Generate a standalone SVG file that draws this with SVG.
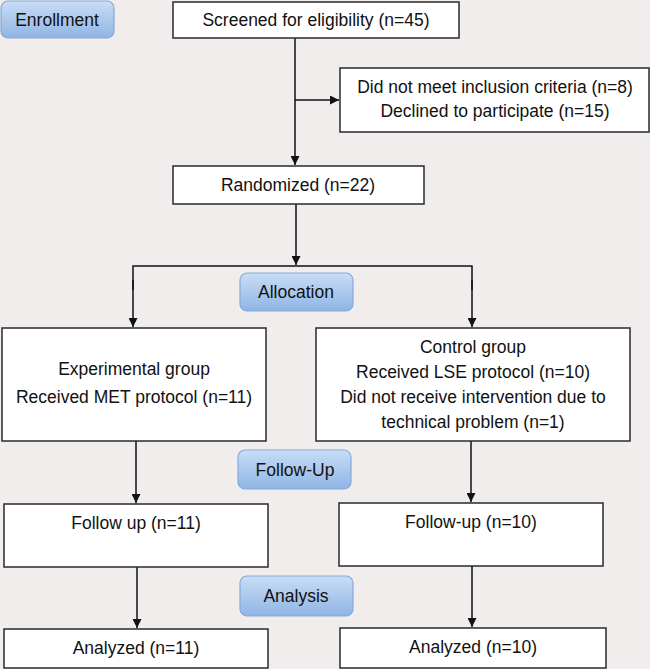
<svg xmlns="http://www.w3.org/2000/svg" width="650" height="669" viewBox="0 0 650 669">
<defs>
<linearGradient id="blue" x1="0" y1="0" x2="0" y2="1">
<stop offset="0" stop-color="#c9ddf6"/>
<stop offset="1" stop-color="#8fb5e4"/>
</linearGradient>
<marker id="arr" viewBox="0 0 10 10" refX="10" refY="5" markerWidth="9" markerHeight="9" markerUnits="userSpaceOnUse" orient="auto">
<path d="M0,0 L10,5 L0,10 z" fill="#111"/>
</marker>
</defs>
<style>
.box{fill:#fff;stroke:#2a2a2a;stroke-width:1.5}
.stage{fill:url(#blue);stroke:#86a9d8;stroke-width:1.2}
.t{font-family:"Liberation Sans",Arial,sans-serif;font-size:17.5px;fill:#111;text-anchor:middle}
.ln{fill:none;stroke:#111;stroke-width:1.5}
</style>
<rect width="650" height="669" fill="#f1eded"/>

<g id="connectors">
<path class="ln" d="M295,38 V165" marker-end="url(#arr)"/>
<path class="ln" d="M295,100 H339" marker-end="url(#arr)"/>
<path class="ln" d="M296,204 V265" marker-end="url(#arr)"/>
<path class="ln" d="M133,290 V266 H472 V290"/>
<path class="ln" d="M133,280 V327" marker-end="url(#arr)"/>
<path class="ln" d="M472,280 V327" marker-end="url(#arr)"/>
<path class="ln" d="M136,441 V503" marker-end="url(#arr)"/>
<path class="ln" d="M471,441 V502" marker-end="url(#arr)"/>
<path class="ln" d="M137,567 V628" marker-end="url(#arr)"/>
<path class="ln" d="M472,566 V627" marker-end="url(#arr)"/>
</g>

<g id="enrollment">
<rect class="stage" x="1" y="1" width="113" height="37" rx="7"/>
<text class="t" x="57" y="26">Enrollment</text>
</g>
<g id="screened">
<rect class="box" x="173" y="2" width="286" height="36"/>
<text class="t" x="316" y="26">Screened for eligibility (n=45)</text>
</g>
<g id="excluded">
<rect class="box" x="340" y="68" width="309" height="64"/>
<text class="t" x="495" y="93">Did not meet inclusion criteria (n=8)</text>
<text class="t" x="495" y="117">Declined to participate (n=15)</text>
</g>
<g id="randomized">
<rect class="box" x="173" y="166" width="251" height="38"/>
<text class="t" x="298" y="191">Randomized (n=22)</text>
</g>
<g id="allocation">
<rect class="stage" x="240" y="273" width="113" height="38" rx="7"/>
<text class="t" x="296" y="298">Allocation</text>
</g>
<g id="experimental">
<rect class="box" x="2" y="328" width="264" height="113"/>
<text class="t" x="134" y="375">Experimental group</text>
<text class="t" x="134" y="403">Received MET protocol (n=11)</text>
</g>
<g id="control">
<rect class="box" x="316" y="328" width="314" height="113"/>
<text class="t" x="473" y="353">Control group</text>
<text class="t" x="473" y="378">Received LSE protocol (n=10)</text>
<text class="t" x="473" y="403">Did not receive intervention due to</text>
<text class="t" x="473" y="428">technical problem (n=1)</text>
</g>
<g id="followup-stage">
<rect class="stage" x="238" y="450" width="113" height="39" rx="7"/>
<text class="t" x="295" y="476">Follow-Up</text>
</g>
<g id="followup-left">
<rect class="box" x="4" y="504" width="264" height="63"/>
<text class="t" x="136" y="529">Follow up (n=11)</text>
</g>
<g id="followup-right">
<rect class="box" x="339" y="503" width="264" height="63"/>
<text class="t" x="471" y="528">Follow-up (n=10)</text>
</g>
<g id="analysis-stage">
<rect class="stage" x="240" y="576" width="113" height="40" rx="7"/>
<text class="t" x="296" y="602">Analysis</text>
</g>
<g id="analyzed-left">
<rect class="box" x="4" y="629" width="264" height="39"/>
<text class="t" x="136" y="654">Analyzed (n=11)</text>
</g>
<g id="analyzed-right">
<rect class="box" x="340" y="628" width="266" height="40"/>
<text class="t" x="473" y="653">Analyzed (n=10)</text>
</g>
</svg>
